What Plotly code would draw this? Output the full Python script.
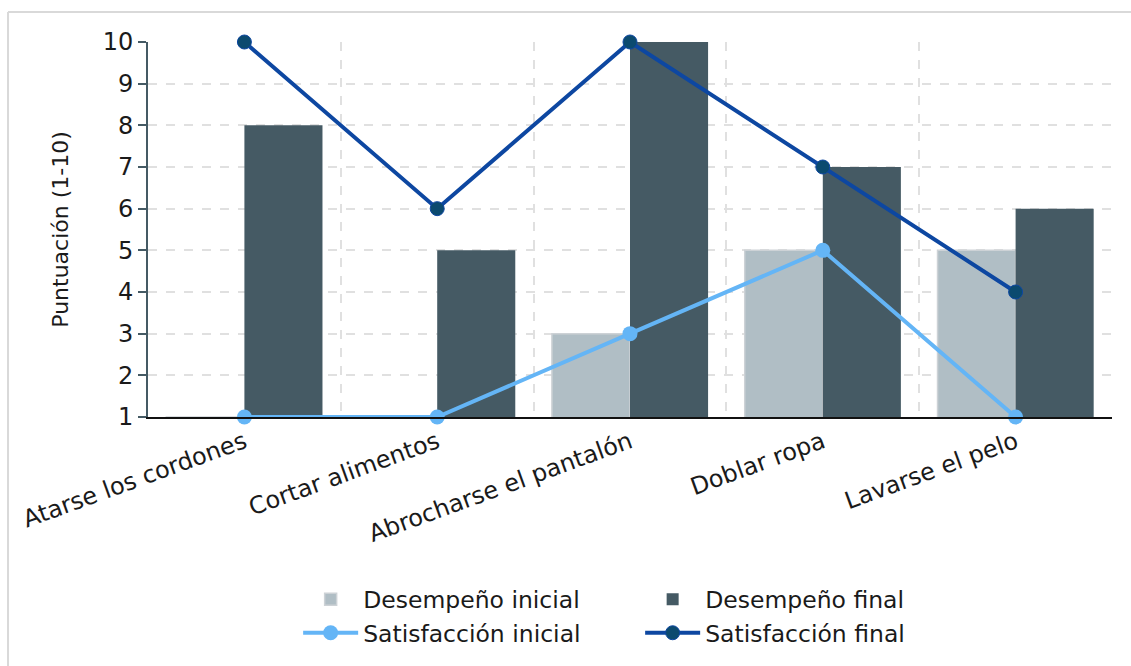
import plotly.graph_objects as go

categorias = ["Atarse los cordones", "Cortar alimentos", "Abrocharse el pantalón", "Doblar ropa", "Lavarse el pelo"]
desempeno_inicial = [1, 1, 3, 5, 5]
desempeno_final = [8, 5, 10, 7, 6]
satisfaccion_inicial = [1, 1, 3, 5, 1]
satisfaccion_final = [10, 6, 10, 7, 4]
y_ticks = list(range(1, 11))

xpos = list(range(len(categorias)))
font = "DejaVu Sans"

fig = go.Figure()
fig.add_trace(go.Bar(x=xpos, y=desempeno_inicial, name="Desempeño inicial",
                     marker=dict(color="#b0bec5", line=dict(color="#cdd2d6", width=1.5))))
fig.add_trace(go.Bar(x=xpos, y=desempeno_final, name="Desempeño final",
                     marker=dict(color="#455a64", line=dict(color="#455a64", width=0))))
fig.add_trace(go.Scatter(x=xpos, y=satisfaccion_inicial, name="Satisfacción inicial",
                         mode="lines+markers", cliponaxis=False,
                         line=dict(color="#64b5f6", width=4),
                         marker=dict(color="#64b5f6", size=15)))
fig.add_trace(go.Scatter(x=xpos, y=satisfaccion_final, name="Satisfacción final",
                         mode="lines+markers", cliponaxis=False,
                         line=dict(color="#0d47a1", width=4),
                         marker=dict(color="#0b4a6f", size=14, line=dict(color="#0d47a1", width=1))))

fig.update_layout(
    width=1131, height=666,
    margin=dict(l=148, r=19, t=42, b=249, autoexpand=False),
    paper_bgcolor="white", plot_bgcolor="white",
    barmode="group", bargap=0.19, bargroupgap=0,
    font=dict(family=font, size=24, color="#1a1a1a"),
    showlegend=True,
    legend=dict(orientation="h", xref="container", yref="container",
                x=0.566, xanchor="center", y=0.133, yanchor="top",
                entrywidth=272, font=dict(size=23.5, color="#1a1a1a"),
                traceorder="normal", itemwidth=55, tracegroupgap=0),
    xaxis=dict(range=[-0.5, 4.5], tickmode="array", tickvals=xpos, ticktext=categorias,
               tickangle=-20, showgrid=False, showline=True, linecolor="#111", linewidth=2,
               ticks="", zeroline=False, tickfont=dict(size=24), automargin=False,
               minor=dict(tickvals=[0.5, 1.5, 2.5, 3.5, 4.5], showgrid=True,
                          gridcolor="#e0e0e0", griddash="dash", gridwidth=1.5, ticks="")),
    yaxis=dict(range=[1, 10], tickmode="array", tickvals=y_ticks,
               showgrid=True, gridcolor="#e0e0e0", griddash="dash", gridwidth=1.5,
               showline=True, linecolor="#455a64", linewidth=2, automargin=False,
               ticks="outside", ticklen=8, tickcolor="#455a64", tickwidth=2,
               zeroline=False, tickfont=dict(size=24),
               title=dict(text="Puntuación (1-10)", font=dict(size=22), standoff=28)),
)

fig.add_shape(type="line", xref="paper", yref="paper", x0=-0.1452, x1=1.03, y0=1.08, y1=1.08,
              line=dict(color="#d9d9d9", width=2))
fig.add_shape(type="line", xref="paper", yref="paper", x0=-0.1452, x1=-0.1452, y0=1.08, y1=-0.7,
              line=dict(color="#d9d9d9", width=2))

fig.write_html("out.html")
